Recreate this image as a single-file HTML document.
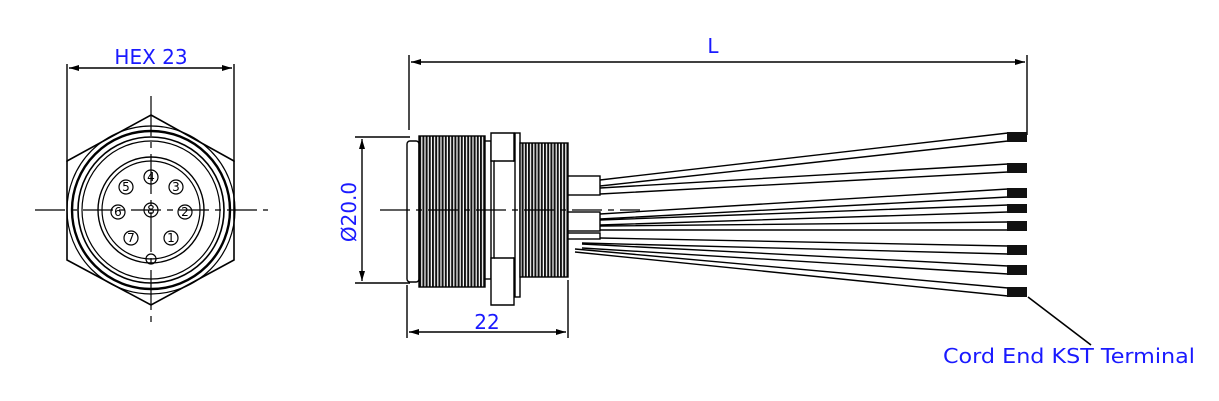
<!DOCTYPE html>
<html><head><meta charset="utf-8"><style>
html,body{margin:0;padding:0;background:#fff;}
svg{display:block;}
text{font-family:"DejaVu Sans","Liberation Sans",sans-serif;fill:#1a1aff;}
</style></head><body>
<svg width="1219" height="401" viewBox="0 0 1219 401" xmlns="http://www.w3.org/2000/svg">
<defs>
<pattern id="thr" width="3.2" height="10" patternUnits="userSpaceOnUse">
<rect width="3.2" height="10" fill="#fff"/><rect width="2" height="10" fill="#111"/>
</pattern>
<marker id="ar" viewBox="0 0 10 6" refX="10" refY="3" markerWidth="10" markerHeight="6" orient="auto-start-reverse" markerUnits="userSpaceOnUse">
<path d="M0,0 L10,3 L0,6 z" fill="#000"/></marker>
</defs>
<g stroke="#000" fill="none" stroke-width="1.4">
<line x1="67" y1="64" x2="67" y2="162"/>
<line x1="234" y1="64" x2="234" y2="162"/>
<line x1="69" y1="68" x2="232" y2="68" marker-start="url(#ar)" marker-end="url(#ar)"/>
<polygon points="151,115 234,161 234,260 151,305 67,260 67,161" stroke-width="1.6"/>
<circle cx="151" cy="210" r="84" stroke-width="1.2"/>
<circle cx="151" cy="210" r="79" stroke-width="2.4"/>
<circle cx="151" cy="210" r="73" stroke-width="1.6"/>
<circle cx="151" cy="210" r="69" stroke-width="1.2"/>
<circle cx="151" cy="210" r="53" stroke-width="1.4"/>
<circle cx="151" cy="210" r="49" stroke-width="1.2"/>
<line x1="151" y1="96" x2="151" y2="325" stroke-dasharray="40,6,6,6" stroke-width="1.2"/>
<line x1="35" y1="210" x2="268" y2="210" stroke-dasharray="30,6,6,6" stroke-width="1.2"/>
<g stroke-width="1.2">
<circle cx="151" cy="177" r="7"/><circle cx="176" cy="187" r="7"/><circle cx="126" cy="187" r="7"/>
<circle cx="118" cy="212" r="7"/><circle cx="151" cy="210" r="7"/><circle cx="185" cy="212" r="7"/>
<circle cx="131" cy="238" r="7"/><circle cx="171" cy="238" r="7"/><circle cx="151" cy="259" r="5"/>
</g>
</g>
<g font-size="12" text-anchor="middle">
<text x="151" y="181" style="fill:#000">4</text><text x="176" y="191" style="fill:#000">3</text>
<text x="126" y="191" style="fill:#000">5</text><text x="118" y="216" style="fill:#000">6</text>
<text x="151" y="214" style="fill:#000">8</text><text x="185" y="216" style="fill:#000">2</text>
<text x="131" y="242" style="fill:#000">7</text><text x="171" y="242" style="fill:#000">1</text>
</g>
<text x="151" y="64" font-size="20" text-anchor="middle">HEX 23</text>

<g stroke="#000" fill="none" stroke-width="1.4">
<line x1="409" y1="55" x2="409" y2="130"/>
<line x1="1027" y1="55" x2="1027" y2="135"/>
<line x1="411" y1="62" x2="1025" y2="62" marker-start="url(#ar)" marker-end="url(#ar)"/>
<line x1="355" y1="137" x2="410" y2="137"/>
<line x1="355" y1="283" x2="410" y2="283"/>
<line x1="362" y1="139" x2="362" y2="281" marker-start="url(#ar)" marker-end="url(#ar)"/>
<line x1="407" y1="285" x2="407" y2="338"/>
<line x1="568" y1="280" x2="568" y2="338"/>
<line x1="409" y1="332" x2="566" y2="332" marker-start="url(#ar)" marker-end="url(#ar)"/>
</g>
<text x="713" y="53" font-size="20" text-anchor="middle">L</text>
<text x="487" y="329" font-size="20" text-anchor="middle">22</text>
<text x="0" y="0" font-size="20" text-anchor="middle" transform="translate(356,212) rotate(-90)">Ø20.0</text>

<g stroke="#000" stroke-width="1.4">
<rect x="407" y="141" width="12" height="141" rx="3" fill="#fff"/>
<rect x="419" y="136" width="66" height="151" fill="url(#thr)"/>
<rect x="485" y="141" width="6" height="138" fill="#fff"/>
<path d="M491,133 L514,133 L514,161 L517,161 L517,258 L514,258 L514,305 L491,305 L491,258 L494,258 L494,161 L491,161 Z" fill="#fff"/>
<line x1="494" y1="161" x2="514" y2="161"/><line x1="494" y1="258" x2="514" y2="258"/>
<rect x="515" y="133" width="5" height="164" fill="#fff"/>
<rect x="520" y="143" width="48" height="134" fill="url(#thr)"/>
<rect x="568" y="176" width="32" height="19" fill="#fff"/>
<rect x="568" y="212" width="32" height="19" fill="#fff"/>
<rect x="568" y="233" width="32" height="6" fill="#fff"/>
</g>
<line x1="380" y1="210" x2="640" y2="210" stroke="#000" stroke-width="1.2" stroke-dasharray="30,6,6,6"/>

<g stroke="#000" stroke-width="1.4" fill="none">
<path d="M600,180 L1008,133 M600,186 L1008,141"/>
<path d="M600,188 L1008,164 M600,194 L1008,172"/>
<path d="M600,214 L1008,189 M600,219 L1008,197"/>
<path d="M600,220 L1008,205 M600,225 L1008,212"/>
<path d="M600,226 L1008,222 M600,230 L1008,230"/>
<path d="M600,238 L1008,246 M582,243 L1008,254"/>
<path d="M582,244 L1008,266 M582,248 L1008,274"/>
<path d="M575,249 L1008,288 M575,252 L1008,296"/>
</g>
<g fill="#111">
<rect x="1007" y="132" width="20" height="10"/>
<rect x="1007" y="163" width="20" height="10"/>
<rect x="1007" y="188" width="20" height="10"/>
<rect x="1007" y="204" width="20" height="9"/>
<rect x="1007" y="221" width="20" height="10"/>
<rect x="1007" y="245" width="20" height="10"/>
<rect x="1007" y="265" width="20" height="10"/>
<rect x="1007" y="287" width="20" height="10"/>
</g>
<line x1="1028" y1="297" x2="1091" y2="345" stroke="#000" stroke-width="1.6"/>
<text x="943" y="363" font-size="20" textLength="252" lengthAdjust="spacingAndGlyphs">Cord End KST Terminal</text>
</svg>
</body></html>
